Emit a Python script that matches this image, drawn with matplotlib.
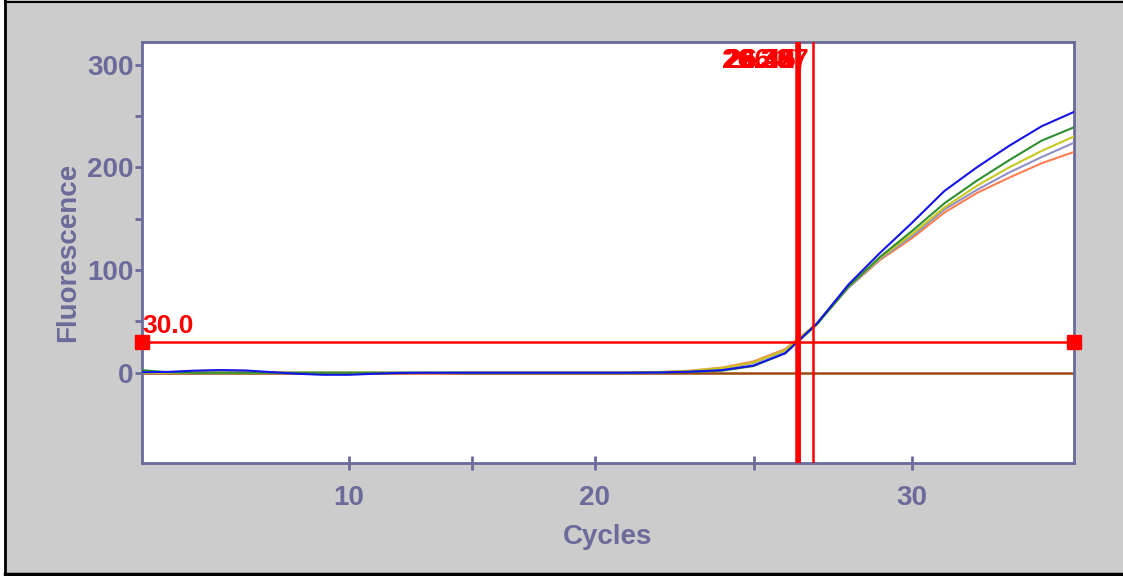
import numpy as np
import matplotlib.pyplot as plt
from matplotlib.lines import Line2D

plt.rcParams['font.family'] = ['Liberation Sans', 'DejaVu Sans']
plt.rcParams['font.weight'] = 'bold'

cycles = np.arange(2, 36)

blue = [0.5, 0.8, 2.0, 2.6, 2.2, 0.6, -1.0, -2.0, -2.0, -1.0, -0.2, 0, 0, 0, 0, 0, 0, 0, 0, 0,
        0.2, 1.0, 2.5, 7, 19, 48, 86, 117, 146, 177, 200, 221, 240, 254]
green = [2.5, 0.5, 0, 0, 0, 0, 0, 0, 0, 0, 0, 0, 0, 0, 0, 0, 0, 0, 0, 0,
         0.2, 0.8, 2, 6.5, 19, 47, 84, 113, 138, 165, 187, 207, 226, 239]
yellow = [0, 0, 0, 0, 0, 0, 0, 0, 0, 0, 0, 0, 0, 0, 0, 0, 0, 0, 0, 0,
          0.5, 1.8, 4.5, 10, 22, 48, 84, 112, 135, 161, 182, 200, 216, 230]
purple = [0, 0, 0, 0, 0, 0, 0, 0, 0, 0, 0, 0, 0, 0, 0, 0, 0, 0, 0, 0,
          0.4, 1.5, 4, 9.5, 21.5, 47.5, 83, 111, 133, 159, 178, 195, 210, 224]
orange = [0, 0, 0, 0, 0, 0, 0, 0, 0, 0, -0.3, -1.2, -0.8, 0, 0, 0, 0, 0, 0, 0,
          0.6, 2, 5, 11, 23, 48, 83, 110, 131, 156, 175, 190, 204, 215]
negative = [0] * len(cycles)

threshold = 30.0
ct_values = [26.33, 26.36, 26.39, 26.42, 26.45, 26.87]

# the cycle axis of the original is not evenly spaced
knots = [2, 10, 20, 30, 35]
pix = [142, 349, 595, 912, 1074]


def piecewise(x, a, b):
    x = np.asarray(x, dtype=float)
    y = np.interp(x, a, b)
    lo_slope = (b[1] - b[0]) / (a[1] - a[0])
    hi_slope = (b[-1] - b[-2]) / (a[-1] - a[-2])
    y = np.where(x < a[0], b[0] + (x - a[0]) * lo_slope, y)
    y = np.where(x > a[-1], b[-1] + (x - a[-1]) * hi_slope, y)
    return y


def fwd(x):
    return piecewise(x, knots, pix)


def inv(x):
    return piecewise(x, pix, knots)


axis_col = '#6a6a9c'
text_col = '#6b6b9b'
W, H = 1123, 576

fig = plt.figure(figsize=(W / 100, H / 100), dpi=100, facecolor='#cccccc')
ax = fig.add_axes([0.1264, 0.196, 0.8300, 0.731])
ax.set_xscale('function', functions=(fwd, inv))

ax.plot(cycles, negative, color='#9a4a10', lw=1.8, zorder=2)
ax.plot(cycles, orange, color='#ff7f50', lw=1.5, zorder=3)
ax.plot(cycles, purple, color='#9090c8', lw=1.5, zorder=3)
ax.plot(cycles, yellow, color='#c8c81e', lw=1.5, zorder=3)
ax.plot(cycles, green, color='#2f8f2f', lw=1.5, zorder=3)
ax.plot(cycles, blue, color='#1414e6', lw=1.5, zorder=3)

ax.set_xlim(2, 35)
ax.set_ylim(-88, 322)

# threshold
ax.axhline(threshold, color='red', lw=1.8, zorder=4)
ax.plot([2, 35], [threshold, threshold], 's', color='red', ms=10, clip_on=False, zorder=6)
ax.annotate(f'{threshold:.1f}', xy=(2, threshold), xytext=(0, 3), textcoords='offset points',
            ha='left', va='bottom', color='red', fontsize=19, fontweight='bold')

for ct in ct_values:
    ax.axvline(ct, color='red', lw=1.8, zorder=5)
    ax.annotate(f'{ct:.2f}', xy=(ct, 304), xytext=(-3, 0), textcoords='offset points',
                ha='right', va='center', color='red', fontsize=20, fontweight='bold')

ax.set_xticks([10, 20, 30])
ax.set_xticks([15, 25], minor=True)
ax.set_yticks([0, 100, 200, 300])
ax.set_yticks([50, 150, 250], minor=True)

for s in ax.spines.values():
    s.set_color(axis_col)
    s.set_linewidth(2)

ax.tick_params(axis='x', which='both', direction='inout', length=10, width=2, color=axis_col,
               labelcolor=text_col, labelsize=20, pad=11)
ax.tick_params(axis='y', which='both', direction='out', length=5, width=2, color=axis_col,
               labelcolor=text_col, labelsize=20, pad=1)
for lab in ax.get_xticklabels() + ax.get_yticklabels():
    lab.set_fontweight('bold')

ax.set_xlabel('Cycles', color=text_col, fontsize=20, fontweight='bold', labelpad=9)
ax.set_ylabel('Fluorescence', color=text_col, fontsize=20, fontweight='bold', labelpad=4)

# frame of the original screenshot: white strip and black line on the left, thin lines top and bottom
fig.patches.append(plt.Rectangle((0, 0), 4 / W, 1, transform=fig.transFigure,
                                 facecolor='white', edgecolor='none', zorder=9))
fig.lines.append(Line2D([5 / W, 5 / W], [0, 1], transform=fig.transFigure, color='black', lw=2, zorder=10))
fig.lines.append(Line2D([5 / W, 1], [1 - 1.5 / H, 1 - 1.5 / H], transform=fig.transFigure,
                        color='black', lw=1.5, zorder=10))
fig.lines.append(Line2D([5 / W, 1], [2 / H, 2 / H], transform=fig.transFigure,
                        color='black', lw=2.5, zorder=10))

fig.savefig('out.png', dpi=100, facecolor=fig.get_facecolor())
